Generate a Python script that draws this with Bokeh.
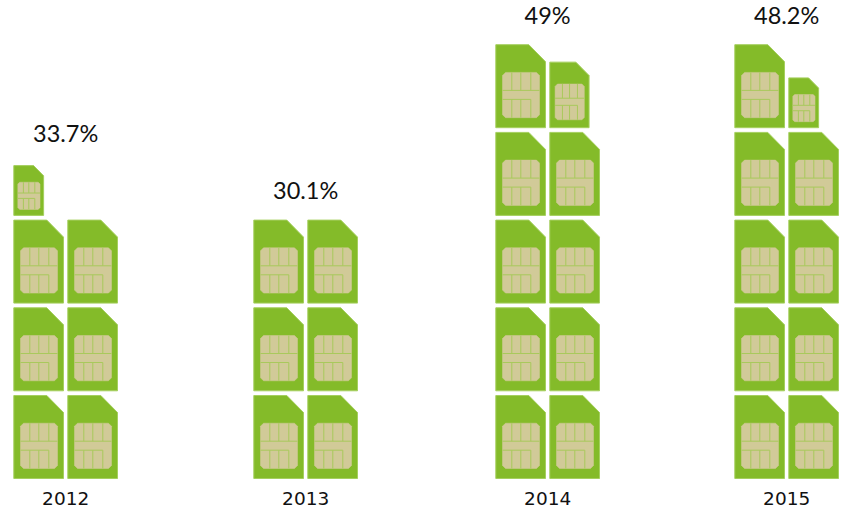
from bokeh.plotting import figure
from bokeh.models import Range1d, ColumnDataSource
from bokeh.core.properties import value
from bokeh.embed import file_html
from bokeh.resources import INLINE

years = ["2012", "2013", "2014", "2015"]
labels = ["33.7%", "30.1%", "49%", "48.2%"]
full_cards = [6, 6, 9, 9]
last_scale = [0.6, 0, 0.79, 0.6]

# layout
col_left = [13.3, 253.3, 495.3, 734.3]
label_gap = [33, 30, 30, 30]
col_step = 54
baseline = 478
row_step = 87.7
W, H = 49.7, 83
FONT = "Lato"
CARD, EDGE, CHIP, LINE = "#84bb29", "#a5cf5f", "#d1ca98", "#a9c95c"

p = figure(width=843, height=509, output_backend="svg", toolbar_location=None,
           x_range=Range1d(0, 843), y_range=Range1d(509, 0), min_border=0)
p.axis.visible = False
p.grid.visible = False
p.outline_line_color = None
p.background_fill_color = "white"
p.border_fill_color = "white"

card_shape = [(0, 0), (33, 0), (W, 17), (W, H), (0, H)]
cx0, cx1, cy0, cy1, r = 6.7, 43.7, 27.7, 73, 3
chip_shape = [(cx0 + r, cy0), (cx1 - r, cy0), (cx1, cy0 + r), (cx1, cy1 - r),
              (cx1 - r, cy1), (cx0 + r, cy1), (cx0, cy1 - r), (cx0, cy0 + r)]
chip_lines = [
    [(16, cy0), (16, 45.7)], [(25, cy0), (25, 45.7)], [(35, cy0), (35, 45.7)],
    [(cx0, 45.7), (cx1, 45.7)],
    [(cx0, 54.7), (35, 54.7)],
    [(16, 54.7), (16, cy1)], [(25, 54.7), (25, cy1)], [(35, 54.7), (35, cy1)],
]

card_x, card_y, chip_x, chip_y, line_x, line_y = [], [], [], [], [], []


def add_card(left, bottom, s):
    top = bottom - H * s
    tx = lambda pts: [left + a * s for a, b in pts]
    ty = lambda pts: [top + b * s for a, b in pts]
    card_x.append(tx(card_shape)); card_y.append(ty(card_shape))
    chip_x.append(tx(chip_shape)); chip_y.append(ty(chip_shape))
    for seg in chip_lines:
        line_x.append(tx(seg)); line_y.append(ty(seg))
    return top


tops = []
for left, n, s in zip(col_left, full_cards, last_scale):
    top = 1e9
    for i in range(n):
        top = min(top, add_card(left + col_step * (i % 2), baseline - row_step * (i // 2), 1))
    if s:
        i = n
        top = min(top, add_card(left + col_step * (i % 2), baseline - row_step * (i // 2), s))
    tops.append(top)

p.patches(card_x, card_y, fill_color=CARD, line_color=EDGE, line_width=1)
p.patches(chip_x, chip_y, fill_color=CHIP, line_color=CHIP, line_width=0.5)
p.multi_line(line_x, line_y, line_color=LINE, line_width=1)

centers = [l + (col_step + W) / 2 for l in col_left]
src = ColumnDataSource(dict(x=centers, top=[t - g for t, g in zip(tops, label_gap)], label=labels,
                            year=years, yb=[baseline + 20] * 4))
p.text("x", "top", text="label", source=src, text_font=value(FONT), text_font_size="23.5px",
       text_color="#111111", text_align="center", text_baseline="middle")
p.text("x", "yb", text="year", source=src, text_font=value("DejaVu Sans"), text_font_size="18.5px",
       text_color="#111111", text_align="center", text_baseline="middle")

open("out.html", "w").write(file_html(p, INLINE))
